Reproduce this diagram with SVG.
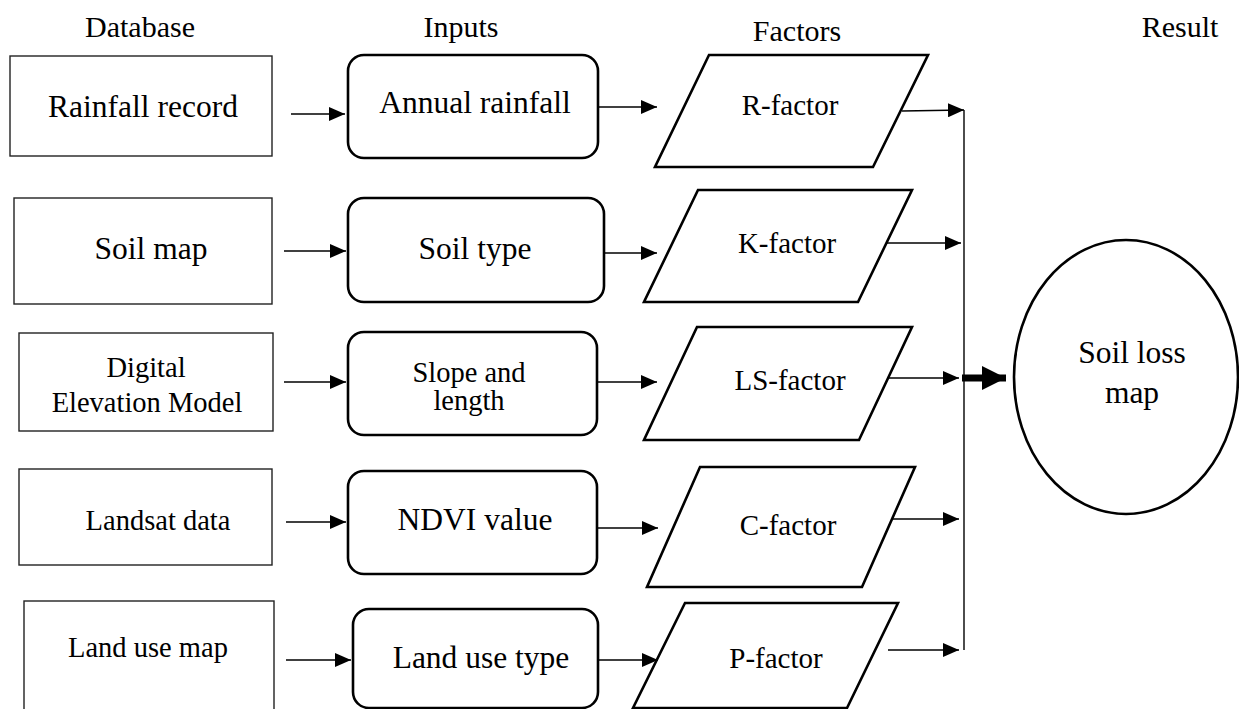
<svg xmlns="http://www.w3.org/2000/svg" width="1239" height="709" viewBox="0 0 1239 709">
<style>
text{font-family:"Liberation Serif","Times New Roman",serif;fill:#000;text-anchor:middle}
.db{fill:#fff;stroke:#222;stroke-width:1.4}
.in{fill:#fff;stroke:#000;stroke-width:2.6}
.fa{fill:#fff;stroke:#000;stroke-width:2.6}
.hd{font-size:30px}
.lg{font-size:31.5px}
.sm{font-size:28.5px}
.fc{font-size:29px}
.ln{fill:none;stroke:#000;stroke-width:1.4}
</style>
<defs>
<marker id="ah" markerUnits="userSpaceOnUse" markerWidth="16" markerHeight="14" refX="16" refY="7" orient="auto">
<path d="M0,0 L16,7 L0,14 Z" fill="#000"/>
</marker>
<marker id="ahb" markerUnits="userSpaceOnUse" markerWidth="24" markerHeight="24" refX="24" refY="12" orient="auto">
<path d="M0,0 L24,12 L0,24 Z" fill="#000"/>
</marker>
</defs>
<g id="headers">
<text class="hd" x="140" y="37">Database</text>
<text class="hd" x="461" y="37">Inputs</text>
<text class="hd" x="797" y="41">Factors</text>
<text class="hd" x="1180" y="37">Result</text>
</g>
<g id="db-rainfall"><rect class="db" x="10" y="56" width="262" height="100"/><text class="lg" x="143" y="117">Rainfall record</text></g>
<g id="db-soil"><rect class="db" x="14" y="198" width="258" height="106"/><text class="lg" x="151" y="259">Soil map</text></g>
<g id="db-dem"><rect class="db" x="19" y="333" width="254" height="98"/><text class="sm" x="146" y="377">Digital</text><text class="sm" x="147" y="412">Elevation Model</text></g>
<g id="db-landsat"><rect class="db" x="19" y="469" width="253" height="96"/><text class="sm" x="158" y="530">Landsat data</text></g>
<g id="db-landuse"><rect class="db" x="24" y="601" width="250" height="112"/><text class="sm" x="148" y="657">Land use map</text></g>
<g id="in-rainfall"><rect class="in" x="348" y="55" width="250" height="103" rx="16"/><text class="lg" x="475" y="113">Annual rainfall</text></g>
<g id="in-soil"><rect class="in" x="348" y="198" width="256" height="104" rx="16"/><text class="lg" x="475" y="259">Soil type</text></g>
<g id="in-slope"><rect class="in" x="348" y="332" width="249" height="103" rx="16"/><text class="sm" x="469" y="382">Slope and</text><text class="sm" x="469" y="410">length</text></g>
<g id="in-ndvi"><rect class="in" x="348" y="471" width="249" height="103" rx="16"/><text class="lg" x="475" y="530">NDVI value</text></g>
<g id="in-landuse"><rect class="in" x="353" y="609" width="245" height="99" rx="16"/><text class="lg" x="481" y="668">Land use type</text></g>
<g id="f-r"><polygon class="fa" points="709,55 928,55 873,167 655,167"/><text class="fc" x="790" y="115">R-factor</text></g>
<g id="f-k"><polygon class="fa" points="698,190 912,190 858,302 644,302"/><text class="fc" x="787" y="253">K-factor</text></g>
<g id="f-ls"><polygon class="fa" points="697,327 912,327 859,440 644,440"/><text class="fc" x="790" y="390">LS-factor</text></g>
<g id="f-c"><polygon class="fa" points="700,467 915,467 862,587 647,587"/><text class="fc" x="788" y="535">C-factor</text></g>
<g id="f-p"><polygon class="fa" points="685,603 898,603 847,708 633,708"/><text class="fc" x="776" y="668">P-factor</text></g>
<g id="result"><ellipse class="in" cx="1126" cy="377" rx="112" ry="137"/><text class="lg" x="1132" y="363">Soil loss</text><text class="lg" x="1132" y="403">map</text></g>
<g id="connectors">
<path class="ln" marker-end="url(#ah)" d="M291,114 L345,114"/>
<path class="ln" marker-end="url(#ah)" d="M598,107 L657,107"/>
<path class="ln" marker-end="url(#ah)" d="M902,111 L964,110"/>
<path class="ln" marker-end="url(#ah)" d="M284,251 L346,251"/>
<path class="ln" marker-end="url(#ah)" d="M604,253 L657,253"/>
<path class="ln" marker-end="url(#ah)" d="M887,243 L961,243"/>
<path class="ln" marker-end="url(#ah)" d="M284,382 L346,382"/>
<path class="ln" marker-end="url(#ah)" d="M597,382 L657,382"/>
<path class="ln" marker-end="url(#ah)" d="M887,378 L959,378"/>
<path class="ln" marker-end="url(#ah)" d="M286,522 L346,522"/>
<path class="ln" marker-end="url(#ah)" d="M597,528 L658,528"/>
<path class="ln" marker-end="url(#ah)" d="M892,519 L959,519"/>
<path class="ln" marker-end="url(#ah)" d="M286,660 L351,660"/>
<path class="ln" marker-end="url(#ah)" d="M598,660 L658,660"/>
<path class="ln" marker-end="url(#ah)" d="M888,650 L959,650"/>
<path class="ln" d="M964,110 L964,650"/>
<path fill="none" stroke="#000" stroke-width="7" marker-end="url(#ahb)" d="M962,378 L1006,378"/>
</g>
</svg>
